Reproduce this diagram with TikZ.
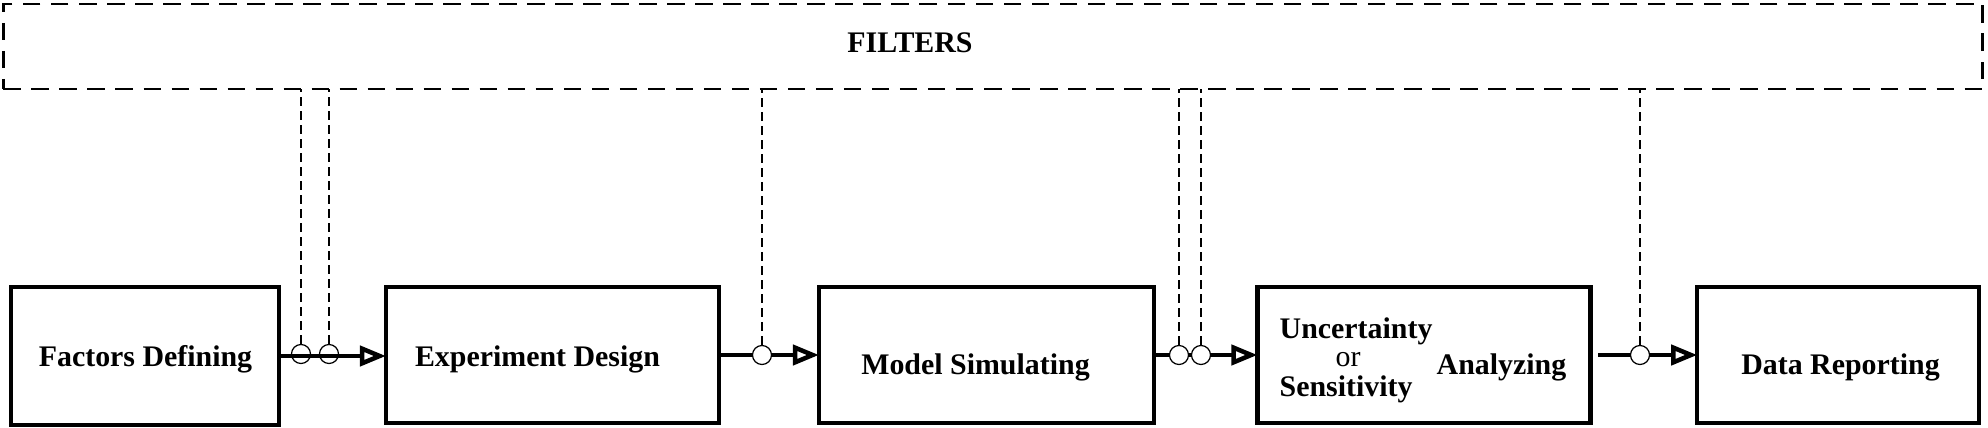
\documentclass[tikz,border=0pt]{standalone}
\usepackage{fontspec}
\setmainfont{Liberation Serif}
\usetikzlibrary{arrows.meta}

\begin{document}
\begin{tikzpicture}[x=0.01cm,y=-0.01cm]

    \tikzset{
      stage/.style={
        draw,
        line width=0.045cm,
        inner sep=0pt,
        outer sep=0pt,
        minimum height=1.355cm,
      },
      filterbox/.style={
        draw,
        line width=0.027cm,
        dash pattern=on 0.175cm off 0.105cm,
        inner sep=0pt,
        outer sep=0pt,
        minimum width=19.78cm,
        minimum height=0.85cm,
      },
      tag/.style={
        anchor=base,
        inner sep=0pt,
        font=\fontsize{8.5}{10}\selectfont\bfseries,
      },
      tap/.style={
        circle,
        draw,
        fill=white,
        line width=0.35pt,
        minimum size=0.19cm,
        inner sep=0pt,
      },
      flow/.style={
        line width=0.033cm,
        -{Triangle[open,length=0.26cm,width=0.2cm,line width=0.045cm]},
      },
      feed/.style={
        line width=0.3pt,
        dash pattern=on 0.09cm off 0.05cm,
      },
    }
    \useasboundingbox (0,0) rectangle (1988,428);

    % filter band
    \node[filterbox] (filters) at (993,46.5) {};
    \node[tag] (filterslbl) at (910,53) {FILTERS};

    % stages
    \node[stage,minimum width=2.68cm,minimum height=1.38cm] (fd) at (145,356) {};
    \node[stage,minimum width=3.33cm] (ed) at (552.5,355) {};
    \node[stage,minimum width=3.35cm] (ms) at (986.5,355) {};
    \node[stage,minimum width=3.33cm] (ua) at (1424,355) {};
    \node[stage,minimum width=2.815cm] (dr) at (1838,355) {};

    \node[tag] (fdlbl) at (145.5,367) {Factors Defining};
    \node[tag] (edlbl) at (537.5,367) {Experiment Design};
    \node[tag] (mslbl) at (975.5,375) {Model Simulating};
    \node[tag,anchor=base west] (ualbla) at (1279,339) {Uncertainty};
    \node[tag,font=\fontsize{8.5}{10}\selectfont] (ualblb) at (1348,367) {or};
    \node[tag,anchor=base west] (ualblc) at (1279,397) {Sensitivity};
    \node[tag,anchor=base west] (ualbld) at (1436,375) {Analyzing};
    \node[tag] (drlbl) at (1840.5,375) {Data Reporting};

    % flow between stages
    \draw[flow] (ed.east) -- (ms.west);
    \draw[flow] (ms.east) -- (ua.west);
    \draw[flow,shorten <=0.075cm] (ua.east) -- (dr.west);

    % taps
    \node[tap] (t1) at (301,354) {};
    \node[tap] (t2) at (329,354) {};
    \node[tap] (t3) at (762,355) {};
    \node[tap] (t4) at (1179,355) {};
    \node[tap] (t5) at (1201,355) {};
    \node[tap] (t6) at (1640,355) {};

    \draw[flow] (fd.east) -- (fd.east -| ed.west);

    \draw[feed] (t1.north) -- (t1.north |- filters.south);
    \draw[feed] (t2.north) -- (t2.north |- filters.south);
    \draw[feed] (t3.north) -- (t3.north |- filters.south);
    \draw[feed] (t4.north) -- (t4.north |- filters.south);
    \draw[feed] (t5.north) -- (t5.north |- filters.south);
    \draw[feed] (t6.north) -- (t6.north |- filters.south);

\end{tikzpicture}
\end{document}
